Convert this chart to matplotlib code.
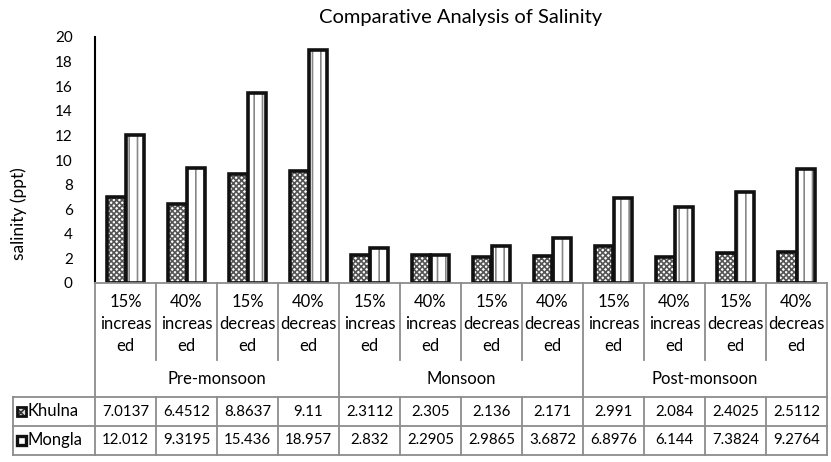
import matplotlib.pyplot as plt
from matplotlib.patches import Rectangle
from matplotlib.lines import Line2D
from matplotlib.transforms import blended_transform_factory

plt.rcParams['font.family'] = ['Lato', 'DejaVu Sans']
plt.rcParams['hatch.linewidth'] = 1.2

seasons = ["Pre-monsoon", "Monsoon", "Post-monsoon"]
scenarios = ["15%\nincreas\ned", "40%\nincreas\ned", "15%\ndecreas\ned", "40%\ndecreas\ned"]
khulna_txt = ["7.0137", "6.4512", "8.8637", "9.11",
              "2.3112", "2.305", "2.136", "2.171",
              "2.991", "2.084", "2.4025", "2.5112"]
mongla_txt = ["12.012", "9.3195", "15.436", "18.957",
              "2.832", "2.2905", "2.9865", "3.6872",
              "6.8976", "6.144", "7.3824", "9.2764"]
khulna = [float(v) for v in khulna_txt]
mongla = [float(v) for v in mongla_txt]
n = len(khulna)
x = list(range(n))

W, H = 831, 462
fig = plt.figure(figsize=(W / 100, H / 100), dpi=100)

def fy(p):
    return 1 - p / H

ax_left, ax_right, ax_top, ax_bot = 95, 827, 37, 283
ax = fig.add_axes([ax_left / W, fy(ax_bot), (ax_right - ax_left) / W, (ax_bot - ax_top) / H])

bw = 0.3
# hatched fill first, then the heavy black outline on top
ax.bar([i - 0.15 for i in x], khulna, bw, color='white', edgecolor='#555555', hatch='xxxxxx', linewidth=0)
ax.bar([i - 0.15 for i in x], khulna, bw, fill=False, edgecolor='#111111', linewidth=2.6)
ax.bar([i + 0.15 for i in x], mongla, bw, color='white', edgecolor='#888888', hatch='||', linewidth=0)
ax.bar([i + 0.15 for i in x], mongla, bw, fill=False, edgecolor='#111111', linewidth=2.6)

ax.set_xlim(-0.5, n - 0.5)
ax.set_ylim(0, 20)
ax.set_yticks(range(0, 21, 2))
ax.tick_params(axis='y', length=0, pad=16, labelsize=11)
ax.set_xticks([])
for s in ['top', 'right', 'bottom']:
    ax.spines[s].set_visible(False)
ax.spines['left'].set_linewidth(1.5)
ax.spines['left'].set_color('black')

fig.text(19 / W, fy(214), "salinity (ppt)", rotation=90, ha='center', va='center', fontsize=12.5)
fig.text(461 / W, fy(17), "Comparative Analysis of Salinity", ha='center', va='center', fontsize=14.5)

# table under the plot: x in data units, y in figure pixels
tr = blended_transform_factory(ax.transData, fig.transFigure)
gc, glw = '#8c8c8c', 1.3
row_cat, row_grp, row_k, row_m = 360, 397, 426, 455

def hline(p, x0, x1, t=tr):
    fig.add_artist(Line2D([x0, x1], [fy(p), fy(p)], color=gc, lw=glw, transform=t))

def vline(xv, p0, p1, t=tr):
    fig.add_artist(Line2D([xv, xv], [fy(p0), fy(p1)], color=gc, lw=glw, transform=t))

hline(ax_bot, -0.5, n - 0.5)
hline(row_grp, -0.5, n - 0.5)
hline(row_k, -0.5, n - 0.5)
hline(row_m, -0.5, n - 0.5)
for b in range(n + 1):
    xb = b - 0.5
    if b % 4 == 0:
        vline(xb, ax_bot, row_m)
    else:
        vline(xb, ax_bot, row_cat)
        vline(xb, row_grp, row_m)

# row label column
ft = fig.transFigure
lx = 13 / W
for p in (row_grp, row_k, row_m):
    fig.add_artist(Line2D([lx, ax_left / W], [fy(p), fy(p)], color=gc, lw=glw, transform=ft))
fig.add_artist(Line2D([lx, lx], [fy(row_grp), fy(row_m)], color=gc, lw=glw, transform=ft))

for i in x:
    fig.text(i, fy(324), scenarios[i % 4], transform=tr,
             ha='center', va='center', fontsize=12, linespacing=1.45)
    fig.text(i, fy((row_grp + row_k) / 2), khulna_txt[i], transform=tr,
             ha='center', va='center', fontsize=10.8)
    fig.text(i, fy((row_k + row_m) / 2), mongla_txt[i], transform=tr,
             ha='center', va='center', fontsize=10.8)
for g, name in enumerate(seasons):
    fig.text(4 * g + 1.5, fy((row_cat + row_grp) / 2), name, transform=tr,
             ha='center', va='center', fontsize=12)

# legend keys
ks = 9
yk = (row_grp + row_k) / 2
ym = (row_k + row_m) / 2
fig.add_artist(Rectangle((17 / W, fy(yk + ks / 2)), ks / W, ks / H, transform=ft,
                         facecolor='#dddddd', edgecolor='#333333', hatch='xxxx', lw=0))
fig.add_artist(Rectangle((17 / W, fy(yk + ks / 2)), ks / W, ks / H, transform=ft,
                         fill=False, edgecolor='#111111', lw=2.0))
fig.add_artist(Rectangle((17 / W, fy(ym + ks / 2)), ks / W, ks / H, transform=ft,
                         facecolor='white', edgecolor='#111111', lw=2.4))
fig.text(28 / W, fy(yk), "Khulna", ha='left', va='center', fontsize=12)
fig.text(28 / W, fy(ym), "Mongla", ha='left', va='center', fontsize=12)

fig.savefig("out.png", dpi=100)
